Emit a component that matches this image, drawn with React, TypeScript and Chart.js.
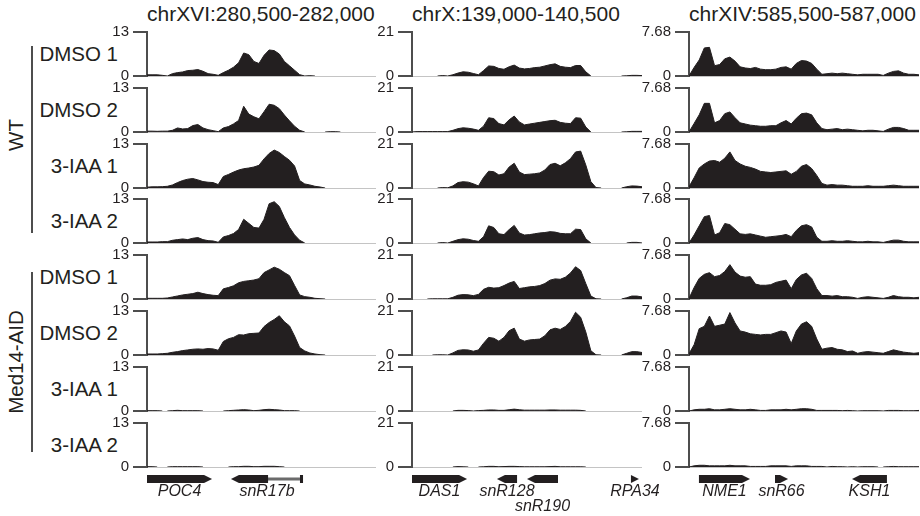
import React, { useEffect, useRef } from "react";
import { Chart, registerables } from "chart.js";
Chart.register(...registerables);

// ---------- data ----------
const REGIONS = ["chrXVI:280,500-282,000", "chrX:139,000-140,500", "chrXIV:585,500-587,000"];
const REGION_START = [280500, 139000, 585500];
const REGION_END = [282000, 140500, 587000];
const Y_MAX = [13, 21, 7.68];
const Y_TICK_LABELS = [["0", "13"], ["0", "21"], ["0", "7.68"]];
const SAMPLE_LABELS = ["DMSO 1", "DMSO 2", "3-IAA 1", "3-IAA 2", "DMSO 1", "DMSO 2", "3-IAA 1", "3-IAA 2"];
const GROUP_LABELS = ["WT", "Med14-AID"];

// chrXVI tracks (signal per bin)
const XVI_WT_DMSO1 = [0.35,0.35,0.35,0.2,0,0.7,1.0,1.2,1.6,1.7, 1.9,1.4,0.7,0.5,0.2,1.0,1.7,2.6,3.9,6.8, 6.3,4.3,3.7,6.1,7.7,7.5,6.5,4.3,3.0,1.7, 0.4,0,0.1,0,0,0,0,0,0,0, 0,0,0,0,0,0];
const XVI_WT_DMSO2 = [0.25,0.25,0.2,0.25,0.25,0.5,1.2,0.9,1.0,1.9, 2.2,1.2,0.7,0.4,0.1,1.2,1.6,2.4,3.4,7.6, 5.3,4.5,3.9,6.0,8.2,7.9,6.9,5.0,3.3,1.7, 0.5,0,0,0,0,0,0.1,0.1,0,0, 0,0,0,0,0,0];
const XVI_WT_IAA1 = [0.25,0.35,0.35,0.4,0.5,0.9,1.6,2.2,2.6,2.8, 2.4,1.9,1.7,1.6,1.0,3.4,4.0,4.7,5.3,5.7, 5.9,6.2,6.7,8.6,10.2,11.2,10.5,9.3,8.2,6.5, 2.2,1.2,0.9,0.5,0.3,0,0,0,0,0, 0,0,0,0,0,0];
const XVI_WT_IAA2 = [0.3,0.3,0.3,0.4,0.4,0.8,1.0,1.2,1.0,1.4, 1.6,1.0,0.7,0.6,0.2,1.8,2.2,2.8,4.0,7.0, 5.8,4.6,4.4,7.0,11.6,12.2,10.8,7.5,4.6,2.4, 0.8,0,0,0,0,0,0,0,0,0, 0,0,0,0,0,0];
const XVI_MED_DMSO1 = [0.2,0.2,0.2,0.2,0.3,0.6,0.9,1.2,1.4,1.6, 2.0,1.6,1.3,1.1,1.0,3.0,3.4,3.9,4.8,5.2, 5.4,5.6,6.0,7.8,8.6,9.4,8.8,7.8,6.9,4.0, 1.2,0.7,0.5,0.2,0.1,0,0,0,0,0, 0,0,0,0,0,0];
const XVI_MED_DMSO2 = [0.3,0.3,0.3,0.4,0.5,0.8,1.0,1.3,1.5,1.7, 1.8,1.7,1.9,1.8,1.4,4.0,4.8,5.2,6.0,5.9, 6.3,6.4,6.5,8.4,9.6,10.5,11.6,9.8,8.6,5.6, 2.2,1.2,0.6,0.3,0.1,0,0,0,0,0, 0,0,0,0,0,0];
const XVI_MED_IAA1 = [0.1,0.1,0.1,0,0,0.1,0.2,0.1,0.1,0.1, 0.1,0,0,0,0,0,0.1,0.2,0.3,0.4, 0.3,0.1,0.2,0.4,0.5,0.4,0.3,0.1,0.1,0.1, 0,0,0,0,0,0,0,0,0,0, 0,0,0,0,0,0];
const XVI_MED_IAA2 = [0.1,0.1,0,0,0,0.1,0.1,0.1,0.1,0.1, 0.1,0,0,0,0,0,0,0.1,0.1,0.2, 0.2,0.1,0.1,0.2,0.2,0.2,0.1,0,0,0, 0,0,0,0,0,0,0,0,0,0, 0,0,0,0,0,0];

// chrX tracks
const X_WT_DMSO1 = [0,0,0,0,0,0,0.2,0,0.6,1.4, 2.0,1.8,1.2,0.6,2.6,4.8,4.6,3.6,3.2,4.4, 5.2,3.8,3.4,3.6,4.0,4.2,4.8,5.4,5.8,4.6, 4.2,4.0,5.0,5.0,2.0,0,0,0,0,0, 0,0,0.1,0.3,0.3,0.2];
const X_WT_DMSO2 = [0,0.2,0.2,0.2,0.2,0.2,0.2,0.2,0.8,1.6, 2.0,1.8,1.4,0.8,2.8,6.8,6.4,4.0,3.4,5.8, 7.6,4.8,3.4,3.8,4.2,4.6,5.0,5.4,5.6,4.6, 4.2,4.0,6.8,6.6,2.4,0,0,0,0,0, 0,0,0.1,0.3,0.3,0.3];
const X_WT_IAA1 = [0,0,0,0,0,0,0.2,0.1,1.0,2.6, 3.0,2.8,2.0,1.0,5.0,8.0,7.8,6.2,6.8,10.0, 11.8,7.6,6.4,6.6,6.8,7.2,8.6,11.2,11.8,10.6, 12.0,14.0,17.2,17.6,11.0,3.0,0.2,0,0,0, 0,0,0.6,1.0,0.9,0.6];
const X_WT_IAA2 = [0,0,0,0,0,0,0.2,0,0.8,1.6, 2.0,1.8,1.2,0.8,3.0,8.2,7.4,4.4,4.0,6.4, 8.4,4.8,3.8,4.0,4.4,4.8,5.0,5.4,5.2,4.6, 4.4,4.4,6.6,6.4,2.0,0,0,0,0,0, 0,0,0,0.3,0.3,0];
const X_MED_DMSO1 = [0,0,0,0,0.1,0.1,0.1,0.1,0.8,1.8, 2.1,2.0,1.6,2.2,4.6,5.6,5.2,5.4,6.4,7.6, 8.4,5.0,5.4,5.8,6.0,6.4,7.4,9.0,9.6,9.4, 10.4,12.4,15.4,13.6,7.4,1.4,0.1,0,0,0, 0,0,0.6,1.4,1.4,1.0];
const X_MED_DMSO2 = [0,0,0,0,0,0.1,0.1,0,1.0,2.2, 2.5,2.4,1.8,2.4,5.6,8.4,8.0,6.6,8.4,11.6, 12.8,7.6,6.6,7.2,7.4,7.6,9.2,12.0,12.8,12.2, 13.6,16.0,20.4,18.0,11.0,2.0,0.1,0,0,0, 0,0,0.8,1.6,1.6,1.2];
const X_MED_IAA1 = [0,0,0,0,0,0,0,0,0,0.3, 0.3,0.2,0,0.2,0.3,0.5,0.5,0.3,0.3,0.6, 0.9,0.6,0.4,0.4,0.4,0.4,0.4,0.5,0.5,0.4, 0.4,0.4,0.4,0.3,0,0,0,0,0,0, 0,0,0,0,0,0];
const X_MED_IAA2 = [0,0,0,0,0,0,0,0,0,0.2, 0.1,0,0,0,0.1,0.3,0.3,0.1,0.2,0.3, 0.3,0.2,0.1,0.1,0.1,0.1,0.1,0.2,0.3,0.1, 0.1,0.1,0.1,0.1,0,0,0,0,0,0, 0,0,0,0,0,0];

// chrXIV tracks
const XIV_WT_DMSO1 = [0,1.5,2.8,4.9,5.0,1.8,2.0,3.0,3.3,2.6, 1.6,1.4,1.3,1.5,1.2,1.1,1.1,1.2,1.5,1.6, 1.2,2.2,2.7,2.6,2.2,1.2,0.3,0.4,0.5,0.4, 0.5,0.4,0.3,0.2,0.3,0.3,0.3,0.3,0.1,0.5, 0.8,0.9,0.5,0.3,0.3,0.2];
const XIV_WT_DMSO2 = [0,1.5,3.0,5.0,5.0,1.6,2.0,3.2,3.5,2.5, 1.6,1.4,1.2,1.1,1.0,1.0,1.1,1.1,1.6,2.0, 1.4,2.4,3.2,3.3,3.0,1.6,0.6,0.4,0.5,0.6, 0.4,0.5,0.4,0.3,0.2,0.3,0.3,0.2,0.1,0.5, 0.8,0.8,0.6,0.3,0.3,0.3];
const XIV_WT_IAA1 = [0.2,1.8,3.5,4.2,4.7,4.8,4.5,5.2,6.3,4.8, 4.2,3.8,3.6,3.3,2.9,2.8,2.7,2.8,2.9,3.0, 2.4,2.9,3.8,4.1,3.4,2.2,0.8,0.5,0.6,0.5, 0.5,0.4,0.3,0.3,0.3,0.4,0.3,0.3,0.3,0.4, 0.5,0.4,0.3,0.3,0.3,0.3];
const XIV_WT_IAA2 = [0,1.4,3.0,4.6,4.8,1.4,1.8,3.4,3.2,2.4, 1.6,1.5,1.6,1.4,1.2,1.0,1.1,1.2,1.3,1.5, 1.1,2.2,3.0,3.2,2.8,1.0,0.3,0.3,0.4,0.3, 0.3,0.4,0.3,0.2,0.2,0.3,0.2,0.2,0.1,0.3, 0.5,0.5,0.3,0.2,0.2,0.2];
const XIV_MED_DMSO1 = [0.1,2.0,3.6,4.3,4.6,3.9,4.1,4.8,6.0,4.7, 4.0,3.8,3.9,2.6,2.4,2.4,2.5,2.9,3.1,3.3, 1.8,3.4,4.2,4.5,3.6,1.8,0.6,0.6,0.5,0.6, 0.4,0.4,0.3,0.1,0.3,0.4,0.3,0.2,0.1,0.3, 0.6,0.4,0.3,0.3,0.2,0.3];
const XIV_MED_DMSO2 = [0.2,1.8,4.6,5.0,6.8,5.0,5.2,5.4,7.4,5.6, 4.2,4.0,3.7,3.6,3.5,3.6,3.6,3.9,4.2,4.0, 2.0,4.2,5.4,5.8,5.0,2.8,1.0,1.2,1.3,1.0, 0.9,0.6,0.7,0.3,0.5,0.6,0.5,0.4,0.3,0.6, 0.9,0.7,0.5,0.4,0.3,0.4];
const XIV_MED_IAA1 = [0,0.2,0.3,0.3,0.4,0.2,0.2,0.3,0.4,0.3, 0.2,0.2,0.3,0.2,0.1,0.1,0.2,0.2,0.2,0.3, 0.2,0.3,0.4,0.4,0.3,0.1,0.1,0.1,0.1,0.1, 0.05,0.1,0.05,0,0.05,0.05,0.05,0.05,0,0.1, 0.1,0.1,0.05,0.05,0.05,0.1];
const XIV_MED_IAA2 = [0,0.2,0.3,0.3,0.2,0.2,0.2,0.2,0.3,0.2, 0.2,0.2,0.1,0.1,0.1,0.1,0.2,0.2,0.2,0.2, 0.1,0.2,0.2,0.2,0.1,0.1,0.1,0,0.1,0.05, 0.05,0,0.05,0,0.05,0.05,0.05,0,0,0.05, 0.1,0.05,0.05,0.05,0.05,0.05];

const TRACKS = [
  [XVI_WT_DMSO1, XVI_WT_DMSO2, XVI_WT_IAA1, XVI_WT_IAA2, XVI_MED_DMSO1, XVI_MED_DMSO2, XVI_MED_IAA1, XVI_MED_IAA2],
  [X_WT_DMSO1, X_WT_DMSO2, X_WT_IAA1, X_WT_IAA2, X_MED_DMSO1, X_MED_DMSO2, X_MED_IAA1, X_MED_IAA2],
  [XIV_WT_DMSO1, XIV_WT_DMSO2, XIV_WT_IAA1, XIV_WT_IAA2, XIV_MED_DMSO1, XIV_MED_DMSO2, XIV_MED_IAA1, XIV_MED_IAA2],
];

// gene annotations (genomic coordinates)
const GENE_NAMES = [["POC4", "snR17b"], ["DAS1", "snR128", "snR190", "RPA34"], ["NME1", "snR66", "KSH1"]];
const GENE_STARTS = [[280500, 281050], [139000, 139554, 139750, 140428], [585565, 586061, 586563]];
const GENE_ENDS = [[280926, 281522], [139359, 139685, 139952, 140480], [585898, 586146, 586791]];
const GENE_STRANDS = [["+", "-"], ["+", "-", "-", "+"], ["+", "+", "-"]];
const GENE_INTRONS: (number[] | null)[][] = [[null, [281293, 281502]], [null, null, null, null], [null, null, null]];
const GENE_LABEL_LINE = [[0, 0], [0, 0, 1, 0], [0, 0, 0]];

// ---------- layout / style ----------
const FONT = '"Liberation Sans", Arial, Helvetica, sans-serif';
const INK = "#231f20";
const AXIS = "#4d4d4d";
const PLOT_LEFT = [147, 412, 689];
const PLOT_RIGHT = [376, 642, 919];
const TRACK_TOP0 = 29;
const TRACK_STEP = 55.8;
const TRACK_H = 50;
const AXW = 50;
const PAD = 10;

Chart.defaults.font.family = FONT;

function TrackChart({ col, row }: { col: number; row: number }) {
  const ref = useRef<HTMLCanvasElement | null>(null);
  useEffect(() => {
    const ymax = Y_MAX[col];
    const values = TRACKS[col][row];
    const start = REGION_START[col];
    const end = REGION_END[col];
    const bin = (end - start) / (values.length - 1);
    const tickLabels = Y_TICK_LABELS[col];
    const chart = new Chart(ref.current as HTMLCanvasElement, {
      type: "line",
      data: {
        datasets: [
          {
            data: values.map((v, i) => ({ x: start + i * bin, y: v })),
            fill: "origin",
            backgroundColor: INK,
            borderColor: INK,
            borderWidth: 1,
            pointRadius: 0,
            tension: 0,
            segment: {
              borderColor: (ctx: any) =>
                ctx.p0.parsed.y === 0 && ctx.p1.parsed.y === 0 ? "rgba(0,0,0,0)" : INK,
            },
          },
        ],
      },
      options: {
        animation: false,
        responsive: true,
        maintainAspectRatio: false,
        events: [],
        layout: { padding: { top: PAD, bottom: PAD, left: 0, right: 0 } },
        plugins: { legend: { display: false }, tooltip: { enabled: false } },
        scales: {
          x: {
            type: "linear",
            min: start,
            max: end,
            position: "bottom",
            ticks: { display: false },
            grid: { display: false, drawTicks: false },
            border: { display: true, color: "#c4c4c4", width: 1 },
            afterFit: (s: any) => {
              s.height = 0;
            },
          },
          y: {
            type: "linear",
            min: 0,
            max: ymax,
            position: "left",
            afterFit: (s: any) => {
              s.width = AXW;
            },
            afterBuildTicks: (s: any) => {
              s.ticks = [{ value: 0 }, { value: ymax }];
            },
            ticks: {
              autoSkip: false,
              padding: 4,
              color: INK,
              font: { family: FONT, size: 15 },
              callback: (_v: any, i: number) => tickLabels[i],
            },
            grid: {
              drawOnChartArea: false,
              drawTicks: true,
              tickLength: 14,
              color: AXIS,
              lineWidth: 2,
            },
            border: { display: true, color: AXIS, width: 2 },
          },
        },
      } as any,
    });
    return () => chart.destroy();
  }, [col, row]);
  const top = Math.round(TRACK_TOP0 + row * TRACK_STEP);
  return (
    <div
      style={{
        position: "absolute",
        left: PLOT_LEFT[col] - AXW,
        top: top - PAD,
        width: PLOT_RIGHT[col] - PLOT_LEFT[col] + AXW,
        height: TRACK_H + 2 * PAD,
      }}
    >
      <canvas ref={ref} style={{ display: "block" }} />
    </div>
  );
}

const GENE_TOP = 468;
const GENE_PAD_L = 12;
const GENE_PAD_R = 30;

function GeneChart({ col }: { col: number }) {
  const ref = useRef<HTMLCanvasElement | null>(null);
  useEffect(() => {
    const plugin = {
      id: "geneTrack",
      afterDatasetsDraw(chart: any) {
        const { ctx, chartArea, scales } = chart;
        const x = scales.x;
        const yc = chartArea.top + 11;
        const hh = 4;
        ctx.save();
        GENE_NAMES[col].forEach((name, i) => {
          const xs = x.getPixelForValue(GENE_STARTS[col][i]);
          const xe = x.getPixelForValue(GENE_ENDS[col][i]);
          const intron = GENE_INTRONS[col][i];
          const plus = GENE_STRANDS[col][i] === "+";
          ctx.fillStyle = INK;
          let bodyS = xs;
          let bodyE = xe;
          if (intron) {
            const is = x.getPixelForValue(intron[0]);
            const ie = x.getPixelForValue(intron[1]);
            ctx.fillStyle = "#6b6b6b";
            ctx.fillRect(is - 4, yc - 1.5, ie - is + 4, 3);
            ctx.fillStyle = INK;
            if (plus) {
              ctx.fillRect(xs, yc - hh, is - xs, 2 * hh);
              bodyS = ie;
            } else {
              ctx.fillRect(ie, yc - hh, xe - ie, 2 * hh);
              bodyE = is;
            }
          }
          const head = Math.min(8, bodyE - bodyS);
          ctx.beginPath();
          if (plus) {
            ctx.moveTo(bodyS, yc - hh);
            ctx.lineTo(bodyE - head, yc - hh);
            ctx.lineTo(bodyE, yc);
            ctx.lineTo(bodyE - head, yc + hh);
            ctx.lineTo(bodyS, yc + hh);
          } else {
            ctx.moveTo(bodyE, yc - hh);
            ctx.lineTo(bodyS + head, yc - hh);
            ctx.lineTo(bodyS, yc);
            ctx.lineTo(bodyS + head, yc + hh);
            ctx.lineTo(bodyE, yc + hh);
          }
          ctx.closePath();
          ctx.fill();
          ctx.font = `italic 16px ${FONT}`;
          ctx.textAlign = "center";
          ctx.textBaseline = "middle";
          ctx.fillStyle = INK;
          const ly = chartArea.top + (GENE_LABEL_LINE[col][i] === 0 ? 24 : 39);
          ctx.fillText(name, (xs + xe) / 2, ly);
        });
        ctx.restore();
      },
    };
    const chart = new Chart(ref.current as HTMLCanvasElement, {
      type: "line",
      data: { datasets: [{ data: [] }] },
      options: {
        animation: false,
        responsive: true,
        maintainAspectRatio: false,
        events: [],
        layout: { padding: { top: 0, bottom: 0, left: GENE_PAD_L, right: GENE_PAD_R } },
        plugins: { legend: { display: false }, tooltip: { enabled: false } },
        scales: {
          x: { type: "linear", min: REGION_START[col], max: REGION_END[col], display: false },
          y: { type: "linear", min: 0, max: 1, display: false },
        },
      } as any,
      plugins: [plugin],
    });
    return () => chart.destroy();
  }, [col]);
  return (
    <div
      style={{
        position: "absolute",
        left: PLOT_LEFT[col] - GENE_PAD_L,
        top: GENE_TOP,
        width: PLOT_RIGHT[col] - PLOT_LEFT[col] + GENE_PAD_L + GENE_PAD_R,
        height: 516 - GENE_TOP,
      }}
    >
      <canvas ref={ref} style={{ display: "block" }} />
    </div>
  );
}

export default function App() {
  const cols = [0, 1, 2];
  const rows = [0, 1, 2, 3, 4, 5, 6, 7];
  return (
    <div
      style={{
        position: "absolute",
        left: 0,
        top: 0,
        width: 920,
        height: 516,
        overflow: "hidden",
        background: "#fff",
        fontFamily: FONT,
        color: INK,
      }}
    >
      {REGIONS.map((t, c) => (
        <div
          key={"t" + c}
          style={{
            position: "absolute",
            left: PLOT_LEFT[c],
            top: 2,
            fontSize: 21,
            lineHeight: "24px",
            whiteSpace: "nowrap",
          }}
        >
          {t}
        </div>
      ))}
      {SAMPLE_LABELS.map((s, r) => (
        <div
          key={"s" + r}
          style={{
            position: "absolute",
            left: 0,
            width: 118,
            textAlign: "right",
            top: Math.round(TRACK_TOP0 + r * TRACK_STEP) + 25 - 12,
            fontSize: 20.5,
            lineHeight: "24px",
            whiteSpace: "nowrap",
          }}
        >
          {s}
        </div>
      ))}
      {GROUP_LABELS.map((g, i) => (
        <div
          key={"g" + i}
          style={{
            position: "absolute",
            left: 16 - 100,
            width: 200,
            top: (i === 0 ? 135 : 362) - 12,
            height: 24,
            lineHeight: "24px",
            textAlign: "center",
            fontSize: 20.5,
            transform: "rotate(-90deg)",
            whiteSpace: "nowrap",
          }}
        >
          {g}
        </div>
      ))}
      <div style={{ position: "absolute", left: 31, top: 46, width: 2, height: 187, background: AXIS }} />
      <div style={{ position: "absolute", left: 31, top: 272, width: 2, height: 180, background: AXIS }} />
      {cols.map((c) => rows.map((r) => <TrackChart key={c + "-" + r} col={c} row={r} />))}
      {cols.map((c) => (
        <GeneChart key={"gene" + c} col={c} />
      ))}
    </div>
  );
}
